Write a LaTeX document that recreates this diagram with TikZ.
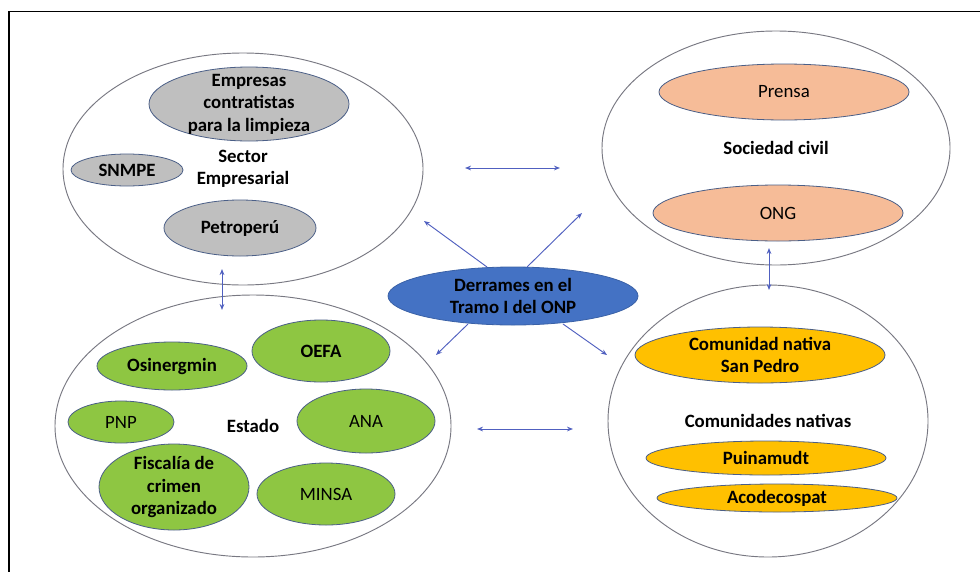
\documentclass[tikz,border=0pt]{standalone}
\usepackage{fontspec}
\setmainfont{Carlito}
\usetikzlibrary{shapes.geometric,arrows.meta}
\definecolor{arrowc}{RGB}{80,96,192}
\definecolor{bigedge}{RGB}{120,120,130}
\definecolor{inedge}{RGB}{75,95,135}
\definecolor{grayfill}{RGB}{191,191,191}
\definecolor{peach}{RGB}{246,188,152}
\definecolor{goldfill}{RGB}{255,192,0}
\definecolor{greenfill}{RGB}{142,198,66}
\definecolor{bluefill}{RGB}{68,114,196}
\tikzset{
  bigoval/.style={ellipse, draw=bigedge, line width=0.7pt, inner sep=0pt, fill=white},
  inoval/.style={ellipse, draw=inedge, line width=0.6pt, inner sep=0pt},
  txtb/.style={align=center, inner sep=0pt, text=black, font=\bfseries\fontsize{14.1}{16.9}\selectfont},
  txtr/.style={align=center, inner sep=0pt, text=black, font=\fontsize{14.1}{16.9}\selectfont},
  conn/.style={draw=arrowc, line width=0.7pt, -{Stealth[length=4.5pt,width=3.5pt]}},
  dconn/.style={draw=arrowc, line width=0.7pt, {Stealth[length=4.5pt,width=3.5pt]}-{Stealth[length=4.5pt,width=3.5pt]}}
}
\begin{document}
\begin{tikzpicture}[x=0.75pt,y=-0.75pt]
\useasboundingbox (0,0) rectangle (980,571);
\fill[white] (0,0) rectangle (980,571);
% frame
\draw[line width=1.2pt, black] (9,572) -- (9,11.5) -- (981,11.5);

% big groups
\node[bigoval, minimum width=270pt, minimum height=174pt, label={[txtb]center:{Sector\\Empresarial}}] (sect) at (243,169) {};
\node[bigoval, minimum width=261pt, minimum height=175.5pt, label={[txtb]center:{Sociedad civil}}] (soc) at (776,148) {};
\node[bigoval, minimum width=297pt, minimum height=196.5pt, label={[txtb]center:{Estado}}] (est) at (253,426) {};
\node[bigoval, minimum width=240pt, minimum height=204pt, label={[txtb]center:{Comunidades nativas}}] (com) at (768,421) {};

% Sector empresarial
\node[inoval, fill=grayfill, minimum width=150pt, minimum height=55.5pt, label={[txtb]center:{Empresas\\contratistas\\para la limpieza}}] (emp) at (249,104) {};
\node[inoval, fill=grayfill, minimum width=84pt, minimum height=24pt, label={[txtb]center:{SNMPE}}] (snmpe) at (127,170) {};
\node[inoval, fill=grayfill, minimum width=114pt, minimum height=42pt, label={[txtb]center:{Petroperú}}] (petro) at (240,228) {};

% Sociedad civil
\node[inoval, fill=peach, minimum width=187.5pt, minimum height=42pt, label={[txtr]center:{Prensa}}] (prensa) at (784,92) {};
\node[inoval, fill=peach, minimum width=187.5pt, minimum height=42pt, label={[txtr]center:{ONG}}] (ong) at (778,213) {};

% Estado
\node[inoval, fill=greenfill, minimum width=112.5pt, minimum height=36pt, label={[txtb]center:{Osinergmin}}] (osin) at (172,366) {};
\node[inoval, fill=greenfill, minimum width=103.5pt, minimum height=46.5pt, label={[txtb]center:{OEFA}}] (oefa) at (321,351) {};
\node[inoval, fill=greenfill, minimum width=79.5pt, minimum height=31.5pt, label={[txtr]center:{PNP}}] (pnp) at (121,422) {};
\node[inoval, fill=greenfill, minimum width=103.5pt, minimum height=48pt, label={[txtr]center:{ANA}}] (ana) at (366,421) {};
\node[inoval, fill=greenfill, minimum width=112.5pt, minimum height=64.5pt, label={[txtb]center:{Fiscalía de\\crimen\\organizado}}] (fisc) at (174,487) {};
\node[inoval, fill=greenfill, minimum width=103.5pt, minimum height=46.5pt, label={[txtr]center:{MINSA}}] (minsa) at (326,494) {};

% Comunidades nativas
\node[inoval, fill=goldfill, minimum width=187.5pt, minimum height=42pt, label={[txtb]center:{Comunidad nativa\\San Pedro}}] (sanp) at (760,355) {};
\node[inoval, fill=goldfill, minimum width=180pt, minimum height=25.5pt, label={[txtb]center:{Puinamudt}}] (puin) at (766,458) {};
\node[inoval, fill=goldfill, minimum width=180pt, minimum height=21pt, label={[txtb]center:{Acodecospat}}] (acod) at (777,498) {};

% center
\node[ellipse, draw=bluefill!85!black, line width=0.6pt, fill=bluefill, inner sep=0pt, minimum width=187.5pt, minimum height=43.5pt, label={[txtb]center:{Derrames en el\\Tramo I del ONP}}] (ctr) at (513,296) {};

% connector end points
\coordinate (th1) at (465,168); \coordinate (th2) at (560,168);
\coordinate (bh1) at (477,429); \coordinate (bh2) at (573,429);
\coordinate (lv1) at (222,269); \coordinate (lv2) at (222,310);
\coordinate (rv1) at (769,248); \coordinate (rv2) at (769,290);
\coordinate (s1) at (487,267); \coordinate (e1) at (424,221);
\coordinate (s2) at (527,267); \coordinate (e2) at (582,213);
\coordinate (s3) at (468,324); \coordinate (e3) at (436,355);
\coordinate (s4) at (563,324); \coordinate (e4) at (607,355);

\draw[dconn] (th1) -- (th2);
\draw[dconn] (bh1) -- (bh2);
\draw[dconn] (lv1) -- (lv2);
\draw[dconn] (rv1) -- (rv2);
\draw[conn] (s1) -- (e1);
\draw[conn] (s2) -- (e2);
\draw[conn] (s3) -- (e3);
\draw[conn] (s4) -- (e4);
\end{tikzpicture}
\end{document}
